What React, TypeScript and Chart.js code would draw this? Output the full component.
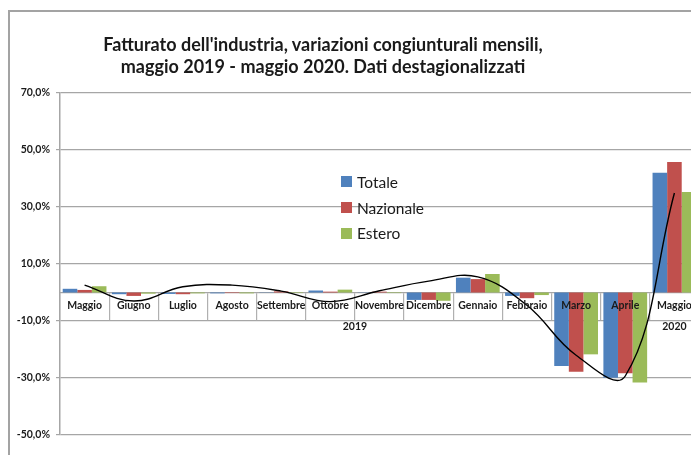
import React, { useEffect, useRef } from "react";
import { Chart, registerables } from "chart.js";

Chart.register(...registerables);

const categories = [
  "Maggio", "Giugno", "Luglio", "Agosto", "Settembre", "Ottobre", "Novembre",
  "Dicembre", "Gennaio", "Febbraio", "Marzo", "Aprile", "Maggio",
];
const yearLabels = ["2019", "2020"];
const yearFirst = [0, 12];
const yearLast = [11, 12];

const seriesNames = ["Totale", "Nazionale", "Estero"];
const seriesColors = ["#4F81BD", "#C0504D", "#9BBB59"];
const totale = [1.3, -0.6, -0.5, -0.3, 0.1, 0.7, 0.1, -2.6, 5.2, -1.2, -25.8, -29.9, 42.0];
const nazionale = [0.9, -1.2, -0.6, -0.2, 0.4, 0.3, 0.3, -2.6, 4.7, -2.0, -27.8, -28.3, 45.8];
const estero = [2.2, -0.4, -0.3, -0.3, -0.2, 1.0, -0.2, -2.9, 6.5, -0.9, -21.7, -31.6, 35.3];
const tendenza = [2.6, -3.0, 2.0, 2.6, 0.5, -3.2, 0.6, 4.0, 5.5, -4.5, -22.0, -29.3, 34.9];

const yMin = -50;
const yMax = 70;
const yStep = 20;

const titleLines = [
  "Fatturato dell'industria, variazioni congiunturali mensili,",
  "maggio 2019 - maggio 2020. Dati destagionalizzati",
];

const FONT = "Lato, 'Liberation Sans', sans-serif";

const yearPlugin = {
  id: "yearLabels",
  afterDraw(chart: any) {
    const xs = chart.scales.x;
    const ys = chart.scales.y;
    const ctx = chart.ctx;
    const y0 = ys.getPixelForValue(0);
    const half = (xs.getPixelForValue(1) - xs.getPixelForValue(0)) / 2;
    ctx.save();
    ctx.font = `bold 10.5px ${FONT}`;
    ctx.fillStyle = "#1a1a1a";
    ctx.textAlign = "center";
    ctx.textBaseline = "middle";
    yearLabels.forEach((lab, i) => {
      const left = xs.getPixelForValue(yearFirst[i]) - half;
      const right = xs.getPixelForValue(yearLast[i]) + half;
      ctx.fillText(lab, (left + right) / 2, y0 + 34);
    });
    ctx.restore();
  },
};

export default function App() {
  const ref = useRef<HTMLCanvasElement | null>(null);

  useEffect(() => {
    const canvas = ref.current;
    if (!canvas) return;
    const series = [totale, nazionale, estero];
    const chart = new Chart(canvas, {
      type: "bar",
      data: {
        labels: categories,
        datasets: [
          {
            type: "line",
            label: "Tendenza",
            data: tendenza,
            borderColor: "#000000",
            borderWidth: 1.4,
            pointRadius: 0,
            tension: 0.4,
            fill: false,
            order: 0,
          } as any,
          ...series.map((d, i) => ({
            type: "bar",
            label: seriesNames[i],
            data: d,
            backgroundColor: seriesColors[i],
            borderWidth: 0,
            barPercentage: 1,
            categoryPercentage: 0.89,
            order: 1,
          })),
        ],
      },
      options: {
        animation: false,
        responsive: false,
        layout: { padding: { left: 0, top: 85, right: 9, bottom: 20 } },
        plugins: {
          legend: { display: false },
          title: { display: false },
          tooltip: { enabled: false },
        },
        scales: {
          y: {
            min: yMin,
            max: yMax,
            afterFit(scale: any) {
              scale.width = 52;
            },
            ticks: {
              stepSize: yStep,
              padding: 6,
              color: "#1a1a1a",
              font: { family: FONT, size: 10.5, weight: "bold" },
              callback: (v: any) => Number(v).toFixed(1).replace(".", ",") + "%",
            },
            grid: { color: "#a6a6a6", lineWidth: 1.2, tickLength: 4 },
            border: { color: "#a6a6a6", width: 1.5 },
          },
          x: {
            position: { y: 0 } as any,
            offset: true,
            grid: {
              offset: true,
              drawOnChartArea: false,
              drawTicks: true,
              tickLength: 27,
              color: "#b0b0b0",
              lineWidth: 1.2,
            },
            border: { color: "#a6a6a6", width: 1.2 },
            ticks: {
              z: 1,
              autoSkip: false,
              maxRotation: 0,
              padding: -20,
              color: "#1a1a1a",
              font: { family: FONT, size: 10.5, weight: "bold" },
            },
          },
        },
      } as any,
      plugins: [yearPlugin],
    });
    return () => chart.destroy();
  }, []);

  return (
    <div style={{ position: "fixed", left: 8, top: 8, width: 683, height: 447, overflow: "hidden", background: "#fff" }}>
      <div
        style={{
          position: "absolute",
          left: 0,
          top: 2,
          right: -20,
          bottom: -20,
          borderLeft: "2px solid #a3a3a3",
          borderTop: "2px solid #a3a3a3",
        }}
      />
      <canvas
        ref={ref}
        width={700}
        height={447}
        style={{ position: "absolute", left: 0, top: 0, width: 700, height: 447 }}
      />
      <div
        style={{
          position: "absolute",
          left: 0,
          top: 25,
          width: 630,
          textAlign: "center",
          fontFamily: FONT,
          fontWeight: "bold",
          fontSize: 18,
          lineHeight: "22px",
          color: "#1a1a1a",
        }}
      >
        {titleLines.map((t, i) => (
          <div key={i}>{t}</div>
        ))}
      </div>
      <div style={{ position: "absolute", left: 333, top: 161, fontFamily: FONT, fontSize: 15.5, color: "#1a1a1a" }}>
        {seriesNames.map((n, i) => (
          <div key={i} style={{ display: "flex", alignItems: "center", height: 25.7 }}>
            <span style={{ display: "inline-block", width: 11, height: 11, background: seriesColors[i], marginRight: 5 }} />
            <span>{n}</span>
          </div>
        ))}
      </div>
    </div>
  );
}
